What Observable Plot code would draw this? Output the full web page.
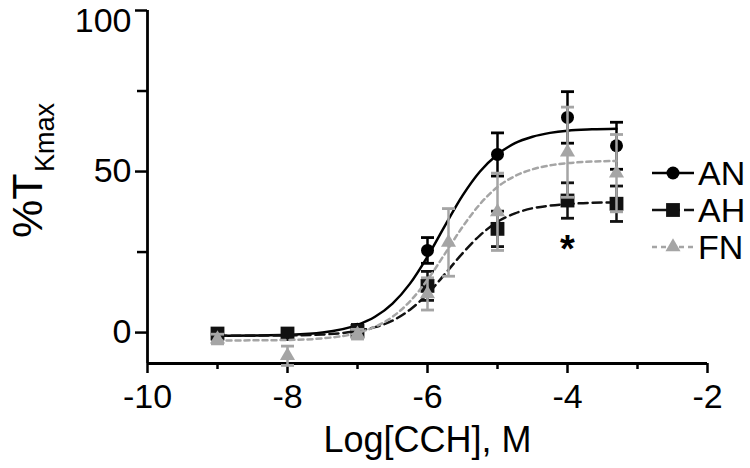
<!DOCTYPE html>
<html><head><meta charset="utf-8">
<script src="https://cdn.jsdelivr.net/npm/d3@7"></script>
<script src="https://cdn.jsdelivr.net/npm/@observablehq/plot@0.6"></script>
<style>
body{margin:0;background:#fff;}
#wrap{position:relative;width:750px;height:468px;font-family:"Liberation Sans",Arial,sans-serif;}
#legend{position:absolute;left:0;top:0;pointer-events:none;}
</style></head><body><div id="wrap"></div>
<script>
// ---- series meta ----
const seriesNames = ["AN", "AH", "FN"];
const seriesColors = ["#000000", "#111111", "#a5a5a5"];
const seriesSymbols = ["circle", "square", "triangle"];
const seriesDash = [null, "9,5", "5,4"];

// ---- measured points (mean ± SEM) ----
const xAN = [-9, -8, -7, -6, -5, -4, -3.3];
const yAN = [-0.5, -0.5, 1, 25.5, 55.3, 66.8, 58];
const semAN = [1.5, 1.5, 1.5, 4, 6.7, 8, 7.3];

const xAH = [-9, -8, -7, -6, -5, -4, -3.3];
const yAH = [-0.3, -0.3, 0.5, 14.5, 32.2, 41, 40];
const semAH = [1.5, 1.5, 1.5, 4.5, 5.5, 5.5, 5.5];

const xFN = [-9, -8, -7, -6, -5.7, -5, -4, -3.3];
const yFN = [-2, -7.2, -0.5, 12, 28, 37.5, 56, 49.5];
const semFN = [1.5, 3, 1.5, 5, 10.5, 12, 14, 12];

// ---- fitted curves ----
const cxAN = [-9, -8.5, -8, -7.5, -7, -6.75, -6.5, -6.25, -6, -5.75, -5.5, -5.25, -5, -4.75, -4.5, -4.25, -4, -3.65, -3.3];
const cyAN = [-1, -0.9, -0.7, 0, 2.4, 4.9, 9, 15.2, 23.6, 33.2, 42.5, 50, 55.3, 58.8, 60.8, 62, 62.7, 63.1, 63.3];

const cxAH = [-9, -8.5, -8, -7.5, -7, -6.75, -6.5, -6.25, -6, -5.75, -5.5, -5.25, -5, -4.75, -4.5, -4.25, -4, -3.65, -3.3];
const cyAH = [-1, -0.95, -0.9, -0.6, 0.5, 1.7, 3.7, 7.1, 12, 18.2, 24.6, 30.2, 34.4, 37, 38.6, 39.4, 39.9, 40.3, 40.4];

const cxFN = [-9, -8.5, -8, -7.5, -7, -6.75, -6.5, -6.25, -6, -5.75, -5.5, -5.25, -5, -4.75, -4.5, -4.25, -4, -3.65, -3.3];
const cyFN = [-2.5, -2.4, -2.3, -1.8, -0.1, 1.8, 4.9, 9.7, 16.4, 24.5, 32.8, 39.9, 45.2, 48.6, 50.7, 51.9, 52.6, 53.1, 53.3];

// ---- axes ----
const xDomain = [-10, -2];
const yDomain = [-9.6, 100];
const xTicksMajor = [-10, -8, -6, -4, -2];
const xTicksMinor = [-9, -7, -5, -3];
const yTicksMajor = [0, 50];
const yTickTop = [100];
const yTicksMinor = [25, 75];
const xTitle = "Log[CCH], M";
const yTitleMain = "%T";
const yTitleSub = "Kmax";

// ---- annotation ----
const starText = ["*"];
const starX = [-4];
const starY = [22];

// ---- build tables ----
const ptsX = [xAN, xAH, xFN], ptsY = [yAN, yAH, yFN], ptsE = [semAN, semAH, semFN];
const crvX = [cxAN, cxAH, cxFN], crvY = [cyAN, cyAH, cyFN];

const capSymbol = {
  draw(ctx, size) {
    const w = Math.sqrt(size / Math.PI);
    ctx.moveTo(-w, 0);
    ctx.lineTo(w, 0);
  }
};
const symR = {circle: 6.5, square: 7.8, triangle: 5.6};

const marks = [];
seriesNames.forEach((name, i) => {
  const pts = ptsX[i].map((x, j) => ({series: name, x, y: ptsY[i][j], sem: ptsE[i][j]}));
  const crv = crvX[i].map((x, j) => ({series: name, x, y: crvY[i][j]}));
  const color = seriesColors[i];
  marks.push(
    Plot.line(crv, {x: "x", y: "y", stroke: color, strokeWidth: 2.5, strokeDasharray: seriesDash[i], curve: "monotone-x"}),
    Plot.ruleX(pts, {x: "x", y1: d => d.y - d.sem, y2: d => d.y + d.sem, stroke: color, strokeWidth: 2.5}),
    Plot.dot(pts, {x: "x", y: d => d.y + d.sem, symbol: capSymbol, r: 6.5, stroke: color, strokeWidth: 2.8, fill: "none"}),
    Plot.dot(pts, {x: "x", y: d => d.y - d.sem, symbol: capSymbol, r: 6.5, stroke: color, strokeWidth: 2.8, fill: "none"}),
    Plot.dot(pts, {x: "x", y: "y", symbol: seriesSymbols[i], r: symR[seriesSymbols[i]], fill: color, stroke: "none"})
  );
});

const stars = starX.map((x, i) => ({x, y: starY[i], t: starText[i]}));

const chart = Plot.plot({
  width: 750,
  height: 468,
  marginLeft: 147,
  marginRight: 43,
  marginTop: 10,
  marginBottom: 105,
  style: {fontFamily: "'Liberation Sans', Arial, sans-serif", background: "white", overflow: "visible", color: "#000"},
  x: {domain: xDomain},
  y: {domain: yDomain},
  marks: [
    Plot.axisY(yTicksMajor, {tickSize: 12, tickPadding: 4, fontSize: 34, label: null, strokeWidth: 2.5, tickFormat: d => String(d)}),
    Plot.axisY(yTickTop, {tickSize: 12, text: null, label: null, strokeWidth: 2.5}),
    Plot.axisY(yTickTop, {tickSize: 0, tickPadding: 16, fontSize: 34, label: null, dy: 11, tickFormat: d => String(d)}),
    Plot.axisY(yTicksMinor, {tickSize: 10, text: null, label: null, strokeWidth: 2.5}),
    Plot.axisX(xTicksMajor, {tickSize: 10, tickPadding: 10, fontSize: 34, label: null, strokeWidth: 2.5, tickFormat: d => String(d)}),
    Plot.axisX(xTicksMinor, {tickSize: 6, text: null, label: null, strokeWidth: 2.5}),
    Plot.ruleX([xDomain[0]], {strokeWidth: 2.8, stroke: "#000"}),
    Plot.ruleY([yDomain[0]], {strokeWidth: 2.8, stroke: "#000"}),
    ...marks,
    Plot.text(stars, {x: "x", y: "y", text: "t", fontSize: 38, fontWeight: "bold", lineAnchor: "bottom", fill: "#000"}),
    Plot.text([xTitle], {text: d => d, frameAnchor: "bottom", dy: 77, fontSize: 36, lineAnchor: "middle", fill: "#000"}),
    Plot.text([yTitleMain], {text: d => d, frameAnchor: "left", dx: -106, dy: 51, rotate: -90, fontSize: 43, lineAnchor: "bottom", fill: "#000"}),
    Plot.text([yTitleSub], {text: d => d, frameAnchor: "left", dx: -94, dy: -15, rotate: -90, fontSize: 27, lineAnchor: "bottom", fill: "#000"})
  ]
});

const wrap = document.getElementById("wrap");
wrap.appendChild(chart);

// ---- legend overlay ----
const legend = d3.select(wrap).append("svg")
  .attr("id", "legend").attr("width", 750).attr("height", 468);
const legendTop = 173, legendStep = 37;
seriesNames.forEach((name, i) => {
  const g = legend.append("g").attr("transform", `translate(0,${legendTop + i * legendStep})`);
  g.append("line").attr("x1", 652).attr("x2", 694).attr("y1", 0).attr("y2", 0)
    .attr("stroke", seriesColors[i]).attr("stroke-width", 2.5)
    .attr("stroke-dasharray", seriesDash[i] ? (i === 1 ? "20,4,4,4" : seriesDash[i]) : null);
  const sym = {circle: d3.symbolCircle, square: d3.symbolSquare, triangle: d3.symbolTriangle}[seriesSymbols[i]];
  const r = symR[seriesSymbols[i]];
  g.append("path").attr("d", d3.symbol(sym, Math.PI * r * r)()).attr("transform", "translate(673,0)")
    .attr("fill", seriesColors[i]);
  g.append("text").attr("x", 698).attr("y", 0).attr("dy", "0.36em")
    .attr("font-size", 34).attr("font-family", "'Liberation Sans', Arial, sans-serif")
    .attr("fill", "#000").text(name);
});
</script></body></html>
